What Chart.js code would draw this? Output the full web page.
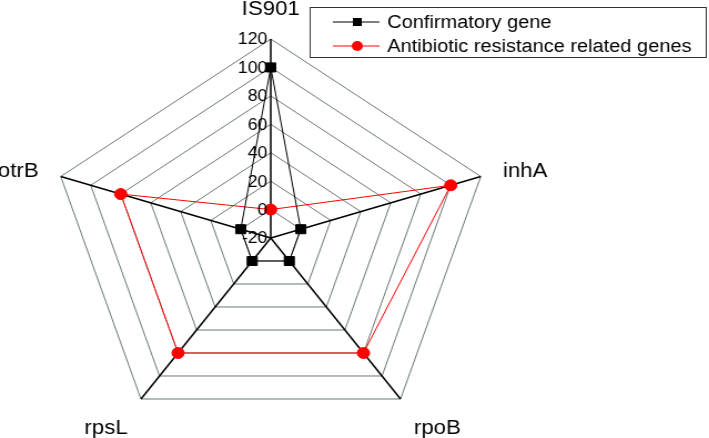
<!DOCTYPE html>
<html>
<head>
<meta charset="utf-8">
<script src="https://cdn.jsdelivr.net/npm/chart.js@4"></script>
<style>
  html, body { margin: 0; padding: 0; background: #fff; overflow: hidden; }
  /* la figure d'origine est étirée horizontalement */
  #wrap { width: 639px; height: 438px; transform: scaleX(1.1096); transform-origin: 0 0; }
</style>
</head>
<body>
<div id="wrap"><canvas id="radar"></canvas></div>
<script>
// --- Données ---
const axisLabels = ['IS901', 'inhA', 'rpoB', 'rpsL', 'otrB'];
const confirmatoryGene = [100, 0, 0, 0, 0];
const resistanceGenes = [0, 100, 80, 80, 80];
const tickValues = [-20, 0, 20, 40, 60, 80, 100, 120];

const FONT = 'Liberation Sans, Arial, sans-serif';

// Étiquettes des axes, placées autour des sommets extérieurs
const labelPlugin = {
    id: 'labels',
    afterDraw(chart) {
        const scale = chart.scales.r;
        const ctx = chart.ctx;
        ctx.save();
        ctx.fillStyle = '#000';

        // graduations à gauche de l'axe IS901
        ctx.font = '16px ' + FONT;
        ctx.textAlign = 'right';
        ctx.textBaseline = 'middle';
        tickValues.forEach(v => {
            const d = scale.getDistanceFromCenterForValue(v);
            ctx.fillText(String(v), scale.xCenter - 3, scale.yCenter - d + 1);
        });

        // noms des gènes
        const offsets = [[0, -30, 'center'], [20, -5, 'left'], [12, 29, 'left'], [-12, 29, 'right'], [-20, -5, 'right']];
        ctx.font = '20px ' + FONT;
        axisLabels.forEach((name, i) => {
            const p = scale.getPointPosition(i, scale.drawingArea);
            const [dx, dy, align] = offsets[i];
            ctx.textAlign = align;
            ctx.fillText(name, p.x + dx, p.y + dy);
        });

        // légende encadrée
        ctx.strokeStyle = '#333';
        ctx.lineWidth = 1;
        ctx.strokeRect(279.5, 7.5, 357, 50);
        const items = [
            { text: 'Confirmatory gene', color: '#000', shape: 'rect', y: 22 },
            { text: 'Antibiotic resistance related genes', color: '#ff0000', shape: 'circle', y: 46 }
        ];
        ctx.font = '18px ' + FONT;
        ctx.textAlign = 'left';
        items.forEach(it => {
            ctx.strokeStyle = it.color;
            ctx.fillStyle = it.color;
            ctx.beginPath();
            ctx.moveTo(300, it.y);
            ctx.lineTo(342, it.y);
            ctx.stroke();
            if (it.shape === 'rect') {
                ctx.fillRect(318, it.y - 4, 8, 8);
            } else {
                ctx.beginPath();
                ctx.arc(322, it.y, 5, 0, Math.PI * 2);
                ctx.fill();
            }
            ctx.fillStyle = '#000';
            ctx.fillText(it.text, 349, it.y + 1);
        });
        ctx.restore();
    }
};

new Chart(document.getElementById('radar'), {
    type: 'radar',
    data: {
        labels: axisLabels,
        datasets: [{
            label: 'Confirmatory gene',
            data: confirmatoryGene,
            borderColor: '#000',
            backgroundColor: '#000',
            borderWidth: 1,
            pointStyle: 'rect',
            pointRadius: 6.4,
            pointHoverRadius: 6.4,
            fill: false
        }, {
            label: 'Antibiotic resistance related genes',
            data: resistanceGenes,
            borderColor: '#ff0000',
            backgroundColor: '#ff0000',
            borderWidth: 1,
            pointStyle: 'circle',
            pointRadius: 5.5,
            pointHoverRadius: 5.5,
            fill: false
        }]
    },
    options: {
        responsive: true,
        maintainAspectRatio: false,
        animation: false,
        layout: { padding: { left: 45, right: 196, top: 39, bottom: 1 } },
        plugins: { legend: { display: false }, tooltip: { enabled: false } },
        scales: {
            r: {
                min: -20,
                max: 120,
                ticks: { stepSize: 20, display: false },
                grid: { color: '#6b7878', lineWidth: 1 },
                angleLines: { color: '#000', lineWidth: 1.5 },
                pointLabels: { display: false }
            }
        }
    },
    plugins: [labelPlugin]
});
</script>
</body>
</html>
